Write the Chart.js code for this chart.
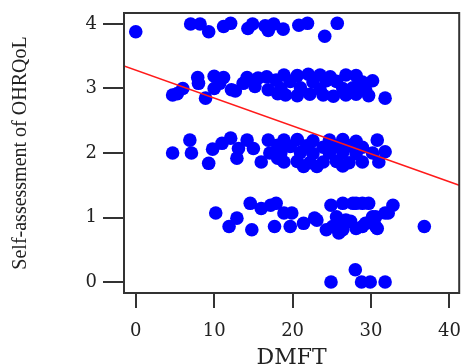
<!DOCTYPE html>
<html>
<head>
<meta charset="utf-8">
<script src="https://cdn.jsdelivr.net/npm/chart.js@4.4.1/dist/chart.umd.min.js"></script>
<style>
  html, body { margin: 0; padding: 0; background: #ffffff; }
  canvas { display: block; }
</style>
</head>
<body>
<canvas id="chart" width="466" height="364"></canvas>
<script>
// =============================================================================
// DATA
// =============================================================================

// DMFT per participant (jittered as in the original plot)
const dmft = [
    // score 4
    0.0, 7.0, 8.2, 9.3, 11.2, 12.1, 14.3, 14.9, 16.5, 16.9, 17.6, 18.8, 20.8, 21.9, 24.1, 25.7,
    // score 3
    4.7, 5.3, 6.0, 7.9, 8.0, 8.9, 10.0, 10.0, 10.7, 11.2, 12.2, 12.7, 13.7, 14.2, 15.2, 15.6,
    16.7, 16.9, 17.9, 18.1,
    18.9, 20.6, 22.0, 23.5, 24.8, 26.8, 28.1,
    19.7, 22.6, 24.3, 25.6, 28.9, 30.2,
    18.5, 21.0, 23.5, 26.4, 27.7, 29.3,
    19.1, 20.6, 22.2, 23.9, 25.2, 26.8, 28.1, 29.7, 31.8,
    // score 2
    4.7, 6.9, 7.1, 9.3, 9.8, 11.0, 12.1, 12.9, 13.1, 14.2, 15.0, 16.0, 16.9, 17.1, 18.1, 18.1,
    18.9, 20.6, 22.6, 24.7, 26.4, 28.1,
    19.7, 21.8, 23.9, 25.6, 27.2, 28.9,
    18.5, 21.0, 22.6, 24.7, 26.4, 28.1, 30.2,
    18.9, 20.6, 22.2, 23.9, 25.6, 27.2, 28.9, 31.0,
    21.4, 23.1, 26.4, 30.8, 31.8,
    // score 1
    10.2, 11.9, 12.9, 14.6, 14.8, 16.0, 17.2, 17.7, 17.9, 18.9, 19.9, 19.7, 21.4, 22.8, 23.1,
    24.3, 24.9, 25.1, 25.6, 25.9, 25.9, 26.4, 26.4, 26.8, 27.4, 27.7, 28.1, 28.1, 28.9, 28.9,
    29.3, 29.7, 30.2, 30.6, 30.6, 30.8, 31.8, 32.2, 32.8, 36.8,
    // score 0
    24.9, 28.0, 28.8, 29.9, 31.8
];

// Self-assessment of OHRQoL, same order as dmft
const ohrqol = [
    // score 4
    3.88, 4.00, 4.00, 3.88, 3.96, 4.01, 3.93, 4.00, 3.97, 3.90, 4.00, 3.92, 3.98, 4.01, 3.81, 4.01,
    // score 3
    2.90, 2.92, 3.00, 3.17, 3.08, 2.85, 3.19, 3.00, 3.08, 3.17, 2.98, 2.96, 3.08, 3.17, 3.03, 3.16,
    3.18, 2.98, 3.13, 2.92,
    3.21, 3.20, 3.22, 3.21, 3.18, 3.21, 3.20,
    3.11, 3.10, 3.12, 3.11, 3.10, 3.12,
    3.00, 3.01, 2.99, 3.00, 3.01, 2.99,
    2.90, 2.89, 2.91, 2.90, 2.88, 2.90, 2.91, 2.89, 2.85,
    // score 2
    2.00, 2.20, 2.00, 1.84, 2.06, 2.15, 2.23, 1.92, 2.07, 2.20, 2.07, 1.86, 2.20, 2.00, 1.92, 2.12,
    2.20, 2.21, 2.19, 2.20, 2.21, 2.18,
    2.10, 2.11, 2.09, 2.10, 2.11, 2.09,
    2.00, 2.01, 1.99, 2.00, 2.01, 1.99, 2.00,
    1.86, 1.87, 1.85, 1.86, 1.87, 1.85, 1.86, 1.86,
    1.79, 1.79, 1.80, 2.20, 2.02,
    // score 1
    1.07, 0.86, 0.99, 1.22, 0.81, 1.14, 1.19, 0.86, 1.22, 1.07, 1.07, 0.86, 0.91, 0.99, 0.96,
    0.81, 1.19, 0.86, 1.01, 0.86, 0.76, 1.22, 0.81, 0.96, 0.94, 1.22, 1.22, 0.83, 1.22, 0.86,
    0.91, 1.22, 1.01, 1.01, 0.86, 0.83, 1.07, 1.07, 1.19, 0.86,
    // score 0
    0.00, 0.19, 0.00, 0.00, 0.00
];

// fitted line, read at the left and right edges of the box
const fitX = [-1.5, 41.25];
const fitY = [3.35, 1.50];

const xTickValues = [0, 10, 20, 30, 40];
const yTickValues = [0, 1, 2, 3, 4];

// =============================================================================
// STYLE
// =============================================================================

const colors = {
    point: '#0000ff',
    fit: '#ff1a1a',
    axis: '#333333',
    text: '#222222'
};

// box around the plotting area, R style
const boxPlugin = {
    id: 'box',
    afterDraw(chart) {
        const { ctx, chartArea } = chart;
        ctx.save();
        ctx.strokeStyle = colors.axis;
        ctx.lineWidth = 2;
        ctx.strokeRect(chartArea.left, chartArea.top,
            chartArea.right - chartArea.left, chartArea.bottom - chartArea.top);
        ctx.restore();
    }
};

const tickFont = { family: 'DejaVu Serif', size: 18 };

// =============================================================================
// CHART
// =============================================================================

new Chart(document.getElementById('chart').getContext('2d'), {
    type: 'scatter',
    data: {
        datasets: [
            {
                type: 'line',
                data: fitX.map((x, i) => ({ x: x, y: fitY[i] })),
                borderColor: colors.fit,
                borderWidth: 1.5,
                pointRadius: 0,
                fill: false,
                order: 0
            },
            {
                data: dmft.map((x, i) => ({ x: x, y: ohrqol[i] })),
                backgroundColor: colors.point,
                borderColor: colors.point,
                borderWidth: 0,
                pointRadius: 6.8,
                order: 1
            }
        ]
    },
    options: {
        responsive: false,
        animation: false,
        // layout loses ~7px on the right, compensate so the box ends at 465
        layout: { padding: { top: 13, right: -6, left: 0, bottom: 0 } },
        plugins: {
            legend: { display: false },
            tooltip: { enabled: false }
        },
        scales: {
            x: {
                type: 'linear',
                min: -1.5,
                max: 41.25,
                afterBuildTicks: s => { s.ticks = xTickValues.map(v => ({ value: v })); },
                afterFit: s => {
                    s.height = 71;
                    s.paddingLeft = 0;
                    s.paddingRight = 0;
                },
                border: { display: false },
                grid: {
                    drawOnChartArea: false,
                    drawTicks: true,
                    tickLength: 15,
                    color: colors.axis,
                    lineWidth: 2
                },
                ticks: { color: colors.text, font: tickFont, padding: 13, maxRotation: 0 },
                title: {
                    display: true,
                    text: 'DMFT',
                    color: colors.text,
                    font: { family: 'DejaVu Serif', size: 22, lineHeight: 0.5 },
                    padding: 0
                }
            },
            y: {
                type: 'linear',
                min: -0.17,
                max: 4.17,
                afterBuildTicks: s => { s.ticks = yTickValues.map(v => ({ value: v })); },
                afterFit: s => {
                    s.width = 124;
                    s.paddingTop = 0;
                    s.paddingBottom = 0;
                },
                border: { display: false },
                grid: {
                    drawOnChartArea: false,
                    drawTicks: true,
                    tickLength: 21,
                    color: colors.axis,
                    lineWidth: 2
                },
                ticks: { color: colors.text, font: tickFont, padding: 6 },
                title: {
                    display: true,
                    text: 'Self-assessment of OHRQoL',
                    color: colors.text,
                    font: { family: 'Liberation Serif', size: 20, lineHeight: 1.2 },
                    padding: { top: 9, bottom: 0 }
                }
            }
        }
    },
    plugins: [boxPlugin]
});
</script>
</body>
</html>
